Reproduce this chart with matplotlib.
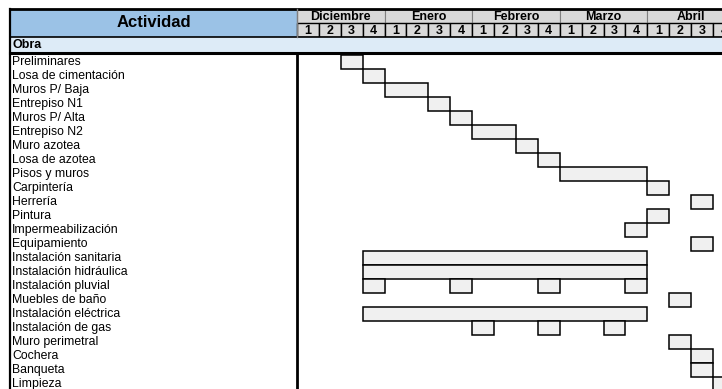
import matplotlib.pyplot as plt
from matplotlib.patches import Rectangle

plt.rcParams['font.family'] = ['Liberation Sans', 'DejaVu Sans']

actividades = ["Preliminares", "Losa de cimentación", "Muros P/ Baja",
               "Entrepiso N1", "Muros P/ Alta", "Entrepiso N2",
               "Muro azotea", "Losa de azotea", "Pisos y muros",
               "Carpintería", "Herrería", "Pintura", "Impermeabilización",
               "Equipamiento", "Instalación sanitaria",
               "Instalación hidráulica", "Instalación pluvial",
               "Muebles de baño", "Instalación eléctrica",
               "Instalación de gas", "Muro perimetral", "Cochera",
               "Banqueta", "Limpieza"]
meses = ["Diciembre", "Enero", "Febrero", "Marzo", "Abril"]
semanas = ["1", "2", "3", "4"]
# (semana de inicio, duracion) contando desde la semana 1 de diciembre
tareas = [
    [(2, 1)], [(3, 1)], [(4, 2)], [(6, 1)], [(7, 1)], [(8, 2)],
    [(10, 1)], [(11, 1)], [(12, 4)], [(16, 1)], [(18, 1)], [(16, 1)],
    [(15, 1)], [(18, 1)], [(3, 13)], [(3, 13)],
    [(3, 1), (7, 1), (11, 1), (15, 1)], [(17, 1)], [(3, 13)],
    [(8, 1), (11, 1), (14, 1)], [(17, 1)], [(18, 1)], [(18, 1)],
    [(19, 1)],
]

azul = "#9BC2E6"
azul_claro = "#DDEBF7"
gris = "#D9D9D9"
barra = "#F0F0F0"

# 1 unidad x = una semana (21.9 px), 1 unidad y = una fila (14 px)
fig = plt.figure(figsize=(7.22, 3.89), dpi=100)
ax = fig.add_axes([0, 0, 1, 1])
ax.set_xlim(-13.56, 19.41)
ax.set_ylim(23.86, -3.93)
ax.axis("off")

left = -13.1
nsem = len(meses) * len(semanas)
right = nsem

# encabezado
ax.add_patch(Rectangle((left, -3.29), 0 - left, 2.0, fc=azul, ec="none"))
ax.text(left / 2, -2.29, "Actividad", ha="center", va="center",
        fontsize=12, fontweight="bold")
for m, mes in enumerate(meses):
    x0 = m * len(semanas)
    ax.add_patch(Rectangle((x0, -3.29), len(semanas), 1.0, fc=gris,
                           ec="#808080", lw=0.8))
    ax.text(x0 + 2, -2.74, mes, ha="center", va="center",
            fontsize=9, fontweight="bold")
    for s, sem in enumerate(semanas):
        ax.add_patch(Rectangle((x0 + s, -2.29), 1, 1.0, fc=gris,
                               ec="black", lw=1.0))
        ax.text(x0 + s + 0.5, -1.74, sem, ha="center", va="center",
                fontsize=9, fontweight="bold")

# fila Obra
ax.add_patch(Rectangle((left, -1.29), right - left, 1.12, fc=azul_claro,
                       ec="none"))
ax.text(left + 0.1, -0.7, "Obra", ha="left", va="center",
        fontsize=9, fontweight="bold")

# bordes
ax.plot([left, right], [-3.29, -3.29], color="black", lw=2)
ax.plot([left, right], [-1.29, -1.29], color="black", lw=1.2)
ax.plot([left, right], [-0.15, -0.15], color="black", lw=2.2)
ax.plot([left, left], [-3.29, 24], color="black", lw=1.6)
ax.plot([0, 0], [-0.15, 24], color="black", lw=2)
ax.plot([0, 0], [-3.29, -1.29], color="#808080", lw=1.0)

# actividades y barras
for i, nombre in enumerate(actividades):
    ax.text(left + 0.1, i + 0.52, nombre, ha="left", va="center",
            fontsize=8.8)
    for ini, dur in tareas[i]:
        ax.add_patch(Rectangle((ini, i), dur, 1, fc=barra, ec="black",
                               lw=1.1))

fig.savefig("out.png", dpi=100)
